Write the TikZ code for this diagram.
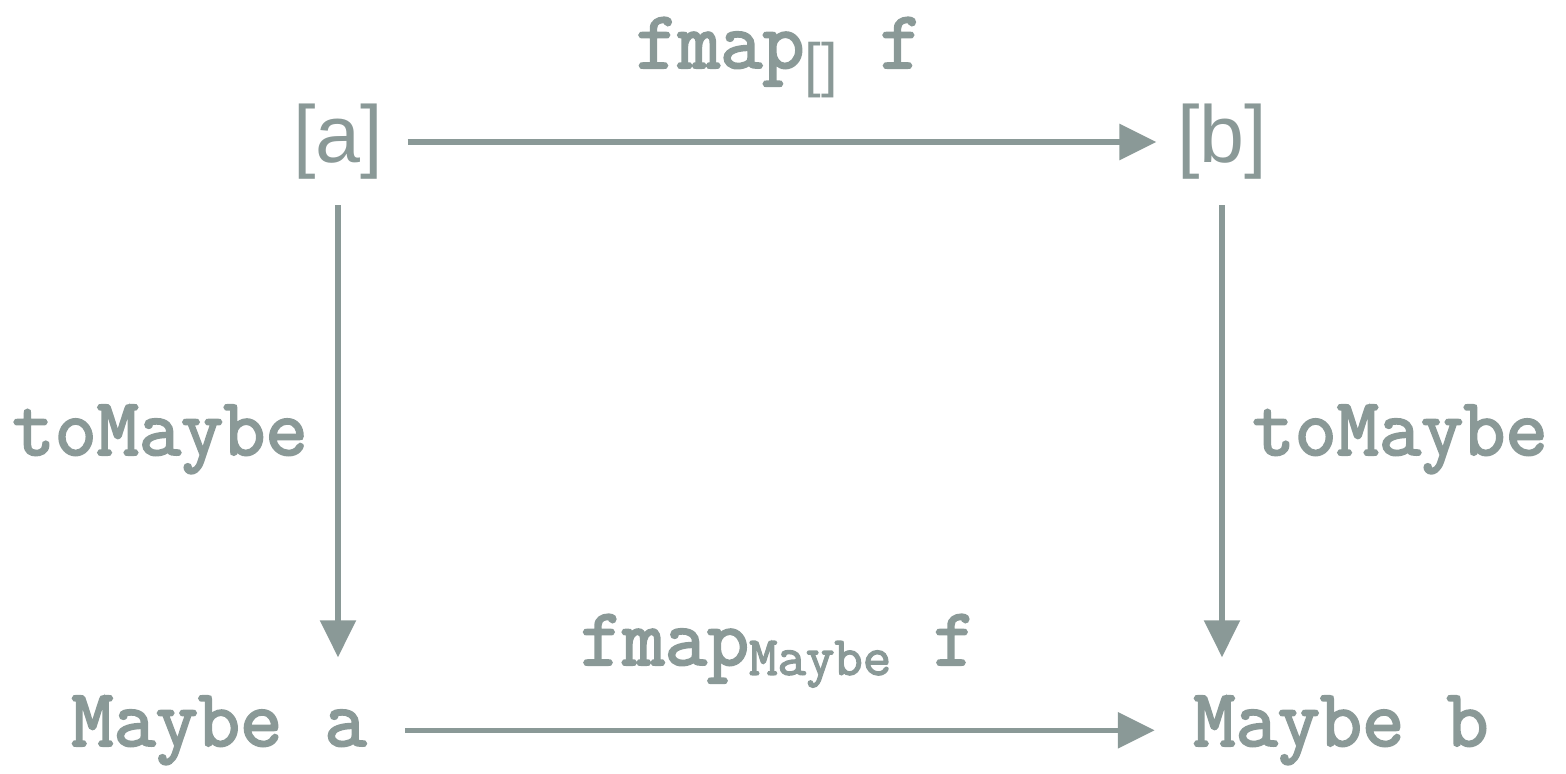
\documentclass[tikz,border=0pt]{standalone}
\usepackage{fontspec}
\setmonofont{Latin Modern Mono}[BoldFont=Latin Modern Mono,BoldFeatures={FakeBold=2.5}]
\setsansfont{Liberation Sans}
\usetikzlibrary{arrows.meta,positioning,calc}
\definecolor{slate}{RGB}{138,153,151}

\begin{document}
\begin{tikzpicture}[
  obj/.style={inner sep=0pt,text=slate,font=\sffamily\fontsize{23}{23}\selectfont},
  code/.style={inner sep=0pt,text=slate,font=\ttfamily\bfseries\fontsize{23.3}{23.3}\selectfont},
  mor/.style={draw=slate,line width=1.5pt,-{Triangle[length=10.5pt,width=10pt]}}]
  \useasboundingbox (0,0) rectangle (15.66,7.74);
  % objects
  \node[obj] (la) at (3.38,6.32) {[a]};
  \node[obj] (lb) at (12.22,6.32) {[b]};
  \node[code,anchor=base] (ma) at (2.19,0.28) {Maybe a};
  \node[code,anchor=base] (mb) at (13.41,0.28) {Maybe b};
  % morphisms
  \draw[mor,shorten <=0.24cm,shorten >=0.2cm] (la) -- (lb);
  \draw[mor,shorten <=0.38cm,shorten >=0.38cm] (ma) -- (mb);
  \draw[mor,shorten <=0.25cm,shorten >=0.38cm] (la.south) -- (la.south |- ma.north);
  \draw[mor,shorten <=0.25cm,shorten >=0.38cm] (lb.south) -- (lb.south |- mb.north);
  % labels
  \node[code,anchor=base] (fl) at (7.79,7.06)
    {fmap{\sffamily\mdseries\fontsize{17}{17}\selectfont\raisebox{-5pt}{[]}} f};
  \node[code,anchor=base] (gl) at (7.78,1.09)
    {fmap{\fontsize{15.7}{15.7}\selectfont\raisebox{-2.8pt}{Maybe}} f};
  \node[code,anchor=base] (tl) at (1.60,3.19) {toMaybe};
  \node[code,anchor=base] (tr) at (14.00,3.19) {toMaybe};
\end{tikzpicture}
\end{document}
